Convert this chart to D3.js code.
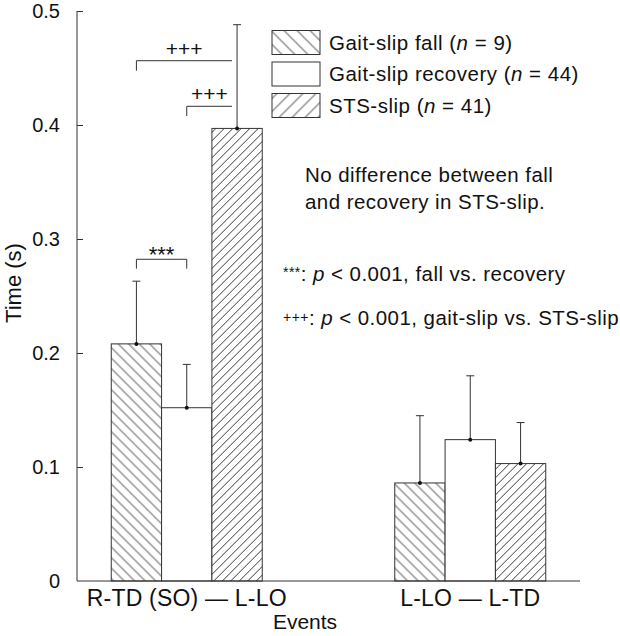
<!DOCTYPE html>
<html><head><meta charset="utf-8">
<script src="https://cdn.jsdelivr.net/npm/d3@7"></script>
<style>
html,body{margin:0;padding:0;background:#fff;}
svg{display:block;font-family:"Liberation Sans",Arial,sans-serif;}
</style></head>
<body><svg id="chart" width="620" height="636"></svg>
<script>
// ---- data ----
const categories = ["R-TD (SO) \u2014 L-LO", "L-LO \u2014 L-TD"];
const seriesNames = ["Gait-slip fall", "Gait-slip recovery", "STS-slip"];
const seriesN = [9, 44, 41];
const fallMean = [0.208, 0.086];
const fallSD = [0.055, 0.059];
const recoveryMean = [0.152, 0.124];
const recoverySD = [0.038, 0.056];
const stsMean = [0.397, 0.103];
const stsSD = [0.091, 0.036];
const yTicks = [0, 0.1, 0.2, 0.3, 0.4, 0.5];
const yLabel = "Time (s)";
const xLabel = "Events";

const means = [fallMean, recoveryMean, stsMean];
const sds = [fallSD, recoverySD, stsSD];

const svg = d3.select("#chart");
const x0 = 77, x1 = 580, yBase = 581, yTop = 11;
const ink = "#333";
const FONT = "Liberation Sans, Arial, sans-serif";

const y = d3.scaleLinear().domain([0, 0.5]).range([yBase, yTop]);
const xg = d3.scaleBand().domain(categories).range([x0, x1]).paddingInner(0.4674).paddingOuter(0.1208);
const xs = d3.scaleBand().domain(seriesNames).range([0, xg.bandwidth()]);

// patterns
const defs = svg.append("defs");
function hatch(id, spacing, angle) {
  const p = defs.append("pattern").attr("id", id).attr("patternUnits", "userSpaceOnUse")
    .attr("width", spacing).attr("height", spacing)
    .attr("patternTransform", `rotate(${angle})`);
  p.append("rect").attr("width", spacing).attr("height", spacing).attr("fill", "#fff");
  p.append("line").attr("x1", spacing / 2).attr("x2", spacing / 2).attr("y1", 0).attr("y2", spacing)
    .attr("stroke", "#555").attr("stroke-width", 0.9);
}
hatch("hFall", 10.5 * Math.SQRT1_2, -45);
hatch("hSts", 8.5 * Math.SQRT1_2, 45);
hatch("lFall", 13 * Math.SQRT1_2, -45);
hatch("lSts", 13 * Math.SQRT1_2, 45);
const fills = ["url(#hFall)", "#fff", "url(#hSts)"];
const legendFills = ["url(#lFall)", "#fff", "url(#lSts)"];

// flatten
const bars = [];
categories.forEach((c, ci) => seriesNames.forEach((s, si) => {
  bars.push({c, s, si, m: means[si][ci], sd: sds[si][ci]});
}));

const g = svg.append("g");
g.selectAll("rect.bar").data(bars).join("rect").attr("class", "bar")
  .attr("x", d => xg(d.c) + xs(d.s)).attr("width", xs.bandwidth())
  .attr("y", d => y(d.m)).attr("height", d => y(0) - y(d.m))
  .attr("fill", d => fills[d.si]).attr("stroke", ink).attr("stroke-width", 1);

// error bars
const cx = d => xg(d.c) + xs(d.s) + xs.bandwidth() / 2;
g.selectAll("line.err").data(bars).join("line").attr("class", "err")
  .attr("x1", cx).attr("x2", cx).attr("y1", d => y(d.m)).attr("y2", d => y(d.m + d.sd))
  .attr("stroke", ink).attr("stroke-width", 1);
g.selectAll("line.cap").data(bars).join("line").attr("class", "cap")
  .attr("x1", d => cx(d) - 4).attr("x2", d => cx(d) + 4).attr("y1", d => y(d.m + d.sd)).attr("y2", d => y(d.m + d.sd))
  .attr("stroke", ink).attr("stroke-width", 1);
g.selectAll("circle.dot").data(bars).join("circle").attr("class", "dot")
  .attr("cx", cx).attr("cy", d => y(d.m)).attr("r", 2).attr("fill", "#111");

// axes
const yAxis = d3.axisLeft(y).tickValues(yTicks).tickSize(-6).tickPadding(17)
  .tickFormat(d => d === 0 ? "0" : d3.format(".1f")(d));
const ya = svg.append("g").attr("transform", `translate(${x0},0)`).call(yAxis);
ya.select(".domain").attr("stroke", ink).attr("d", `M0,${yTop}V${yBase}`);
ya.selectAll(".tick line").attr("stroke", ink);
ya.selectAll(".tick").filter(d => d === 0).select("line").remove();
ya.selectAll("text").attr("font-size", 20).attr("fill", "#111").attr("font-family", FONT);

const xAxis = d3.axisBottom(xg).tickSize(0).tickPadding(9);
const xa = svg.append("g").attr("transform", `translate(0,${yBase})`).call(xAxis);
xa.select(".domain").attr("stroke", ink).attr("d", `M${x0},0H${x1}`);
xa.selectAll("text").attr("font-size", 23).attr("letter-spacing", 0.2).attr("fill", "#111").attr("font-family", FONT);

svg.append("text").attr("x", 305).attr("y", 629).attr("text-anchor", "middle")
  .attr("font-size", 21).attr("fill", "#111").text(xLabel);
svg.append("text").attr("transform", "translate(21,283) rotate(-90)").attr("text-anchor", "middle")
  .attr("font-size", 22).attr("fill", "#111").text(yLabel);

// significance brackets
const c0 = categories[0];
const centerOf = si => xg(c0) + xs(seriesNames[si]) + xs.bandwidth() / 2;
const brackets = [
  {from: 0, to: 2, yv: 0.4564, leg: 0.0088, label: "+++", leftOnly: true},
  {from: 1, to: 2, yv: 0.4164, leg: 0.0085, label: "+++", leftOnly: true},
  {from: 0, to: 1, yv: 0.2822, leg: 0.0082, label: "***", leftOnly: false}
];
brackets.forEach(b => {
  const xa_ = centerOf(b.from), xb_ = b.leftOnly ? centerOf(b.to) - 5 : centerOf(b.to);
  const yy = y(b.yv), yl = y(b.yv - b.leg);
  const path = b.leftOnly ? `M${xa_},${yl}V${yy}H${xb_}` : `M${xa_},${yl}V${yy}H${xb_}V${yl}`;
  svg.append("path").attr("d", path).attr("fill", "none").attr("stroke", ink).attr("stroke-width", 1);
  svg.append("text").attr("x", (xa_ + xb_) / 2).attr("y", b.label === "***" ? yy + 3 : yy - 5)
    .attr("text-anchor", "middle").attr("font-size", b.label === "***" ? 22 : 21).attr("fill", "#111").text(b.label);
});

// legend
const leg = svg.append("g");
seriesNames.forEach((s, i) => {
  const ly = 30.5 + i * 31.5;
  leg.append("rect").attr("x", 272).attr("y", ly).attr("width", 48).attr("height", 24)
    .attr("fill", legendFills[i]).attr("stroke", ink).attr("stroke-width", 1);
  const t = leg.append("text").attr("x", 329).attr("y", ly + 19).attr("font-size", 20.5)
    .attr("letter-spacing", 0.5).attr("fill", "#111");
  t.append("tspan").text(s + " (");
  t.append("tspan").attr("font-style", "italic").text("n");
  t.append("tspan").text(" = " + seriesN[i] + ")");
});

// annotations
const notes = svg.append("g").attr("font-size", 20.5).attr("letter-spacing", 0.45).attr("fill", "#111");
notes.append("text").attr("x", 305).attr("y", 182).text("No difference between fall");
notes.append("text").attr("x", 305).attr("y", 208.5).text("and recovery in STS-slip.");
const n1 = notes.append("text").attr("x", 283).attr("y", 281);
n1.append("tspan").attr("font-size", 14).attr("dy", -4).text("***");
n1.append("tspan").attr("dy", 4).text(": ");
n1.append("tspan").attr("font-style", "italic").text("p");
n1.append("tspan").text(" < 0.001, fall vs. recovery");
const n2 = notes.append("text").attr("x", 283).attr("y", 325);
n2.append("tspan").attr("font-size", 14).attr("dy", -3).text("+++");
n2.append("tspan").attr("dy", 3).text(": ");
n2.append("tspan").attr("font-style", "italic").text("p");
n2.append("tspan").text(" < 0.001, gait-slip vs. STS-slip");
</script></body></html>
